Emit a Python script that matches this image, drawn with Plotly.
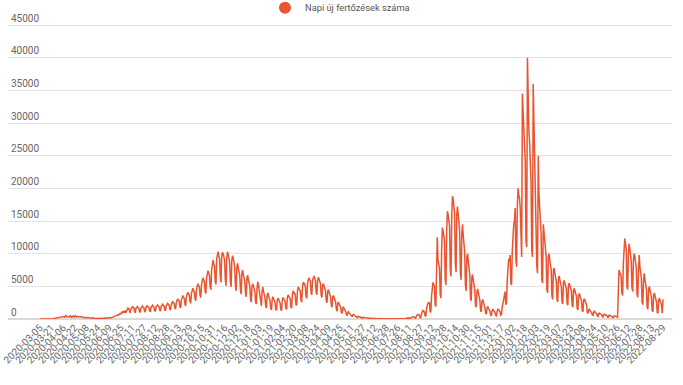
import pandas as pd
import plotly.graph_objects as go

# ---- categories (report dates) ----
dates = (
    list(pd.date_range("2020-03-05", "2021-06-28"))
    + list(pd.date_range("2021-07-11", "2021-07-25"))
    + list(pd.date_range("2021-07-26", "2022-05-26"))
    + list(pd.date_range("2022-05-27", "2022-06-10"))
    + [pd.Timestamp("2022-06-12")]
    + list(pd.date_range("2022-07-13", "2022-07-27"))
    + list(pd.date_range("2022-07-28", "2022-08-29"))
)
dates = [d.strftime("%Y-%m-%d") for d in dates]

# ---- series values (daily new infections) ----
wave_2020_spring = [
    2, 0, 1, 3, 3, 5, 7, 9, 11, 13,
    16, 19, 30, 32, 39, 50, 58, 73, 58, 48,
    85, 103, 123, 150, 187, 186, 170, 217, 210, 246,
    325, 380, 310, 260, 290, 440, 520, 320, 280, 360,
    410, 300, 480, 350, 250, 390, 460, 300, 370, 520,
    330, 280, 410, 350, 240, 300, 380, 260, 310, 250,
    290, 220, 200, 260, 180, 230, 160, 210, 190, 150,
    170, 140, 180, 120, 160, 130, 110, 150, 100, 140,
    120, 90, 130, 110, 80, 140, 100, 120, 90, 150,
    110, 130, 160, 120, 180, 150, 200, 170, 230, 190,
]
wave_2020_autumn = [
    240, 280, 330, 300, 420, 480, 430, 560, 640, 580,
    720, 850, 780, 960, 1100, 900, 1200, 1050, 1300, 950,
    1300, 1500, 1700, 1600, 1100, 900, 1500, 1750, 1850, 1700,
    1800, 1200, 950, 1600, 1850, 1900, 1750, 1700, 1150, 1000,
    1650, 1900, 2000, 1800, 1750, 1200, 1050, 1700, 2000, 1950,
    1850, 1800, 1250, 1100, 1750, 2050, 2100, 1900, 1850, 1300,
    1150, 1850, 2100, 2150, 2000, 1900, 1350, 1200, 1900, 2200,
    2250, 2100, 2000, 1400, 1250, 2000, 2300, 2400, 2250, 2150,
    1500, 1350, 2200, 2600, 2700, 2500, 2400, 1700, 1500, 2500,
    2900, 3100, 2900, 2800, 1900, 1700, 2900, 3400, 3600, 3300,
    3200, 2300, 2000, 3400, 3900, 4100, 3800, 3700, 2700, 2400,
    3900, 4500, 4700, 4400, 4200, 3100, 2800, 4500, 5200, 5400,
    5100, 4900, 3600, 3300, 5300, 6000, 6300, 6000, 5700, 4200,
    3900, 6300, 7200, 7400, 7000, 6700, 4900, 4500, 7500, 8600,
    9000, 8500, 8100, 5800, 5300, 9200, 10100, 10300, 9600, 9300,
    6500, 5600, 9600, 10200, 10000, 9500, 9000, 6000, 5100, 9400,
    10300, 9900, 9200, 8700, 5800, 4900, 9000, 9700, 9300, 8600,
    8000, 5200, 4300, 7900, 8500, 7800, 7200, 6700, 4400, 3800,
    7000, 7500, 6800, 6300, 5800, 3900, 3400, 6300, 6700, 6000,
    5500, 5000, 3000, 2600, 5000, 5400, 5000, 4600, 4200, 2600,
    2300, 4700, 5700, 5200, 4400, 3900, 2400, 2000, 4300, 4900,
]
wave_2021_spring = [
    4200, 3700, 3300, 1900, 1700, 3600, 4000, 3500, 3100, 2800,
    1600, 1400, 3000, 3400, 3100, 2700, 2500, 1500, 1300, 2800,
    3200, 3000, 2600, 2400, 1400, 1300, 2900, 3300, 3100, 2800,
    2700, 1600, 1500, 3200, 3700, 3500, 3300, 3100, 1800, 1700,
    3700, 4300, 4100, 3900, 3700, 2200, 2100, 4200, 4900, 4700,
    4500, 4300, 2800, 2600, 4900, 5600, 5500, 5200, 5000, 3400,
    3200, 5500, 6200, 6300, 6000, 5800, 4000, 3700, 6000, 6500,
    6600, 6200, 5900, 4100, 3700, 5900, 6400, 6100, 5700, 5400,
    3600, 3300, 5200, 5400, 5000, 4600, 4300, 2800, 2500, 4200,
    4500, 4100, 3700, 3400, 2100, 1800, 3400, 3600, 3200, 2900,
    2600, 1500, 1200, 2400, 2600, 2300, 2000, 1800, 1000, 850,
    1700, 1800, 1500, 1300, 1100, 650, 520, 1000, 1100, 900,
    780, 650, 400, 330, 650, 700, 580, 500, 420, 250,
    200, 400, 420, 350, 300, 260, 150, 120, 250, 270,
]
summer_2021 = [
    220, 190, 160, 90, 70, 150, 160, 130, 110, 100,
    60, 45, 100, 110, 90, 80, 70, 40, 30, 75,
    80, 70, 60, 55, 30, 25, 60, 65, 55, 50,
    45, 20, 15, 40, 45, 40, 35, 30, 15, 12,
    35, 40, 35, 30, 28, 12, 10, 30, 35, 32,
    60, 90, 120, 110, 100, 85, 40, 35, 130, 160,
    200, 180, 170, 70, 60, 250, 330, 380, 350, 300,
]
wave_2021_autumn = [
    120, 100, 450, 600, 700, 650, 600, 250, 200, 800,
    1100, 1300, 1200, 1100, 500, 400, 1500, 2100, 2500, 2300,
    2600, 1200, 1000, 3500, 4800, 5600, 5300, 5000, 2200, 1900,
    7500, 12500, 9000, 8500, 7800, 3800, 3200, 10500, 14000, 13500,
    12800, 12000, 6000, 5200, 13500, 16500, 16000, 15000, 14200, 7500,
    6500, 15500, 18800, 18300, 17000, 16200, 8500, 7200, 16000, 17200,
    16000, 14800, 13500, 7000, 6000, 13000, 14500, 12800, 11500, 10200,
    5200, 4300, 9500, 10000, 8800, 7800, 6800, 3200, 2800, 6500,
    6800, 5900, 5100, 4400, 2100, 1800, 4200, 4600, 4000, 3400,
    2900, 1300, 1100, 2700, 3000, 2500, 2100, 1800, 900, 750,
    1700, 1900, 1600, 1400, 1200, 600, 500, 1300, 1500, 1300,
    1100, 1000, 550, 480, 1200, 1500, 1400, 1200, 1100, 600,
]
wave_2022_omicron = [
    700, 1800, 2600, 3000, 3500, 4200, 2200, 2500, 6000, 7500,
    9200, 8800, 9800, 5500, 5200, 10500, 12800, 14500, 15000, 17000,
    9000, 8000, 17500, 20000, 19000, 18500, 17000, 10500, 9500, 34500,
    31000, 29000, 26000, 24000, 12000, 11000, 40000, 33000, 29000, 27000,
    25000, 21000, 10500, 9500, 36000, 30000, 25000, 21000, 17000, 8000,
    7000, 25000, 19000, 17000, 15000, 13000, 6000, 5500, 14500, 13000,
    11500, 10500, 9500, 4500, 4000, 9500, 10000, 9000, 8000, 7500,
    3500, 3000, 7500, 7800, 7000, 6300, 5800, 3000, 2600, 6200,
    6600, 6000, 5400, 5000, 2600, 2300, 5600, 5900, 5400, 5000,
    4700, 2400, 2100, 5200, 5500, 5000, 4600, 4300, 2100, 1800,
    4400, 4700, 4200, 3800, 3500, 1600, 1400, 3600, 3900, 3500,
    3100, 2800, 1300, 1100, 2900, 3100, 2800, 2500, 2200, 1000,
    850, 1400, 1500, 1200, 1100, 1000, 600, 550, 1100, 1200,
    1000, 900, 800, 450, 400, 850, 900, 800, 700, 650,
    350, 300, 700, 750, 650, 600, 550, 280, 250, 550,
    600, 500, 450, 400, 220, 200, 450, 480, 420, 380,
]
wave_2022_summer = [
    250, 280, 3900, 7500, 7200, 6800, 6500, 4000, 3600, 8500,
    10500, 12300, 11500, 10800, 5000, 4500, 9800, 11500, 10800, 9500,
    8800, 4800, 4200, 9000, 10000, 9500, 8500, 7800, 3800, 3300,
    7200, 9800, 8000, 7000, 6300, 2600, 2200, 5800, 7000, 6000,
    5300, 4600, 1800, 1500, 4500, 5000, 4400, 3900, 3400, 1300,
    1100, 3500, 4000, 3500, 3000, 2600, 1000, 900, 2900, 3200,
    2800, 2400, 2100, 900, 3000,
]

new_cases = (wave_2020_spring + wave_2020_autumn + wave_2021_spring + summer_2021
             + wave_2021_autumn + wave_2022_omicron + wave_2022_summer)

# ---- tick labels ----
tick_labels = [
    "2020-03-05", "2020-03-21", "2020-04-06", "2020-04-22", "2020-05-08", "2020-05-24",
    "2020-06-09", "2020-06-25", "2020-07-11", "2020-07-27", "2020-08-12", "2020-08-28",
    "2020-09-13", "2020-09-29", "2020-10-15", "2020-10-31", "2020-11-16", "2020-12-02",
    "2020-12-18", "2021-01-03", "2021-01-19", "2021-02-04", "2021-02-20", "2021-03-08",
    "2021-03-24", "2021-04-09", "2021-04-25", "2021-05-11", "2021-05-27", "2021-06-12",
    "2021-06-28", "2021-07-26", "2021-08-11", "2021-08-27", "2021-09-12", "2021-09-28",
    "2021-10-14", "2021-10-30", "2021-11-15", "2021-12-01", "2021-12-17", "2022-01-02",
    "2022-01-18", "2022-02-03", "2022-02-19", "2022-03-07", "2022-03-23", "2022-04-08",
    "2022-04-24", "2022-05-10", "2022-05-26", "2022-06-12", "2022-07-28", "2022-08-13",
    "2022-08-29",
]
y_ticks = [0, 5000, 10000, 15000, 20000, 25000, 30000, 35000, 40000, 45000]

n = min(len(dates), len(new_cases))
dates = dates[:n]
new_cases = new_cases[:n]

COLOR = "#ea5430"
series_name = "Napi új fertőzések száma"

fig = go.Figure()
fig.add_trace(go.Scatter(
    x=dates, y=new_cases, mode="lines", name=series_name,
    line=dict(color=COLOR, width=1.5), showlegend=False,
))
fig.add_trace(go.Scatter(
    x=[None], y=[None], mode="markers", name=series_name,
    marker=dict(color=COLOR, size=13, symbol="circle"), showlegend=True,
))

fig.update_layout(
    width=683, height=385,
    margin=dict(l=8, r=11, t=12, b=66, autoexpand=False),
    paper_bgcolor="white", plot_bgcolor="white",
    font=dict(family="Roboto, Noto Sans, sans-serif", size=10, color="#666666"),
    legend=dict(orientation="h", x=0.5, xanchor="center", y=1.0135, yanchor="middle",
                font=dict(size=9.3, color="#555555"), itemsizing="constant",
                bgcolor="rgba(0,0,0,0)"),
    xaxis=dict(type="category", categoryorder="array", categoryarray=dates,
               tickmode="array", tickvals=tick_labels, ticktext=tick_labels,
               tickangle=-45, showgrid=False, zeroline=False, showline=False,
               ticks="", range=[-44.4, n - 1 + 12.5], automargin=False,
               tickfont=dict(size=10, color="#666666")),
    yaxis=dict(range=[0, 47000], tickmode="array", tickvals=y_ticks,
               ticktext=[str(v) for v in y_ticks],
               showgrid=True, gridcolor="#e3e3e3", gridwidth=1, zeroline=True,
               zerolinecolor="#d9d9d9", zerolinewidth=2, showline=False,
               ticks="", ticklabelposition="inside top", automargin=False,
               tickfont=dict(size=10, color="#666666")),
    hovermode=False,
)

fig.write_html(
    "out.html",
    config={"displayModeBar": False},
    post_script="document.body.style.margin='0';document.body.style.overflow='hidden';",
)
